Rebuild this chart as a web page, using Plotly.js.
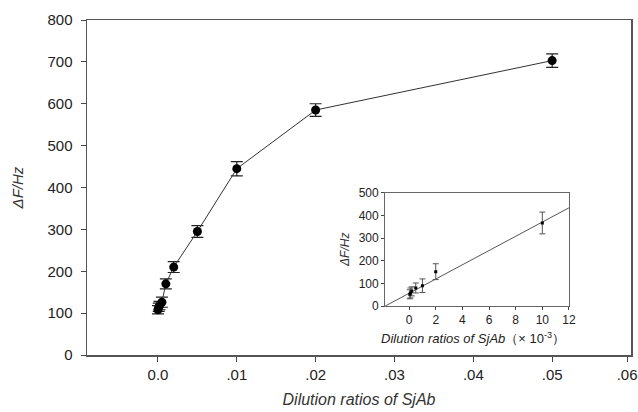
<!DOCTYPE html>
<html>
<head>
<meta charset="utf-8">
<script src="https://cdn.plot.ly/plotly-3.0.1.min.js"></script>
<style>html,body{margin:0;padding:0;background:#fff;}#chart{width:638px;height:412px;}</style>
</head>
<body>
<div id="chart"></div>
<script>
// Main chart data
const mainX = [0, 0.0001, 0.0002, 0.0005, 0.001, 0.002, 0.005, 0.01, 0.02, 0.05];
const mainY = [108, 114, 118, 126, 170, 210, 295, 445, 585, 703];
const mainErr = [10, 10, 10, 12, 12, 13, 14, 17, 15, 16];
const mainTickVals = [0, 0.01, 0.02, 0.03, 0.04, 0.05, 0.0595];
const mainTickText = ["0.0", ".01", ".02", ".03", ".04", ".05", ".06"];

// Inset data (x in units of 10^-3)
const insetX = [0.05, 0.1, 0.2, 0.5, 1, 2, 10];
const insetY = [52, 58, 65, 80, 90, 152, 367];
const insetErr = [20, 22, 20, 22, 30, 35, 48];
const fitX = [-1.8, 12];
const fitY = [0, 434];

const font = "Liberation Sans, Arial, sans-serif";

const traces = [
  {
    x: mainX, y: mainY, type: "scatter", mode: "lines+markers",
    line: {color: "#333", width: 1},
    marker: {color: "#000", size: 9},
    error_y: {type: "data", array: mainErr, visible: true, color: "#222", thickness: 1.2, width: 6},
    xaxis: "x", yaxis: "y", hoverinfo: "skip", cliponaxis: false
  },
  {
    x: fitX, y: fitY, type: "scatter", mode: "lines",
    line: {color: "#555", width: 1},
    xaxis: "x2", yaxis: "y2", hoverinfo: "skip"
  },
  {
    x: insetX, y: insetY, type: "scatter", mode: "markers",
    marker: {color: "#000", size: 3, symbol: "square"},
    error_y: {type: "data", array: insetErr, visible: true, color: "#555", thickness: 1, width: 3},
    xaxis: "x2", yaxis: "y2", hoverinfo: "skip"
  }
];

const layout = {
  width: 638, height: 412,
  margin: {l: 87, r: 7, t: 20, b: 57},
  paper_bgcolor: "#fff", plot_bgcolor: "#fff",
  showlegend: false,
  font: {family: font, color: "#222"},
  xaxis: {
    domain: [0, 1],
    range: [-0.009, 0.06],
    tickvals: mainTickVals, ticktext: mainTickText,
    ticklabeloverflow: "allow",
    ticks: "outside", ticklen: 5, tickcolor: "#444",
    tickfont: {size: 15, color: "#222"},
    showgrid: false, zeroline: false,
    showline: true, linecolor: "#555", linewidth: 1.5, mirror: true,
    title: {text: "<i>Dilution ratios of SjAb</i>", font: {size: 16, color: "#333"}, standoff: 12}
  },
  yaxis: {
    domain: [0, 1],
    range: [0, 800], dtick: 100,
    ticks: "outside", ticklen: 5, tickcolor: "#444",
    ticklabelstandoff: 5,
    tickfont: {size: 15, color: "#222"},
    showgrid: false, zeroline: false,
    showline: true, linecolor: "#555", linewidth: 1.5, mirror: true,
    title: {text: "<i>ΔF/Hz</i>", font: {size: 15, color: "#333"}, standoff: 20}
  },
  xaxis2: {
    domain: [0.548, 0.886], anchor: "y2",
    range: [-1.8, 12], dtick: 2, tick0: 0,
    ticks: "outside", ticklen: 3, tickcolor: "#444",
    tickfont: {size: 12, color: "#222"},
    showgrid: false, zeroline: false,
    showline: true, linecolor: "#666", linewidth: 1, mirror: true
  },
  yaxis2: {
    domain: [0.146, 0.484], anchor: "x2",
    range: [0, 500], dtick: 100,
    ticks: "outside", ticklen: 3, tickcolor: "#444",
    tickfont: {size: 12, color: "#222"},
    showgrid: false, zeroline: false,
    showline: true, linecolor: "#666", linewidth: 1, mirror: true
  },
  annotations: [
    {
      text: "<i>Dilution ratios of SjAb</i>（× 10<sup>-3</sup>）",
      xref: "paper", yref: "paper",
      x: (473 - 87) / 544, y: (355 - 338) / 335, xanchor: "center", yanchor: "middle",
      showarrow: false, font: {size: 13, color: "#222"}
    },
    {
      text: "<i>ΔF/Hz</i>",
      xref: "paper", yref: "paper",
      x: (345 - 87) / 544, y: (355 - 250) / 335, xanchor: "center", yanchor: "middle",
      textangle: -90, showarrow: false, font: {size: 12, color: "#333"}
    }
  ]
};

Plotly.newPlot("chart", traces, layout, {displayModeBar: false, staticPlot: true});
</script>
</body>
</html>
